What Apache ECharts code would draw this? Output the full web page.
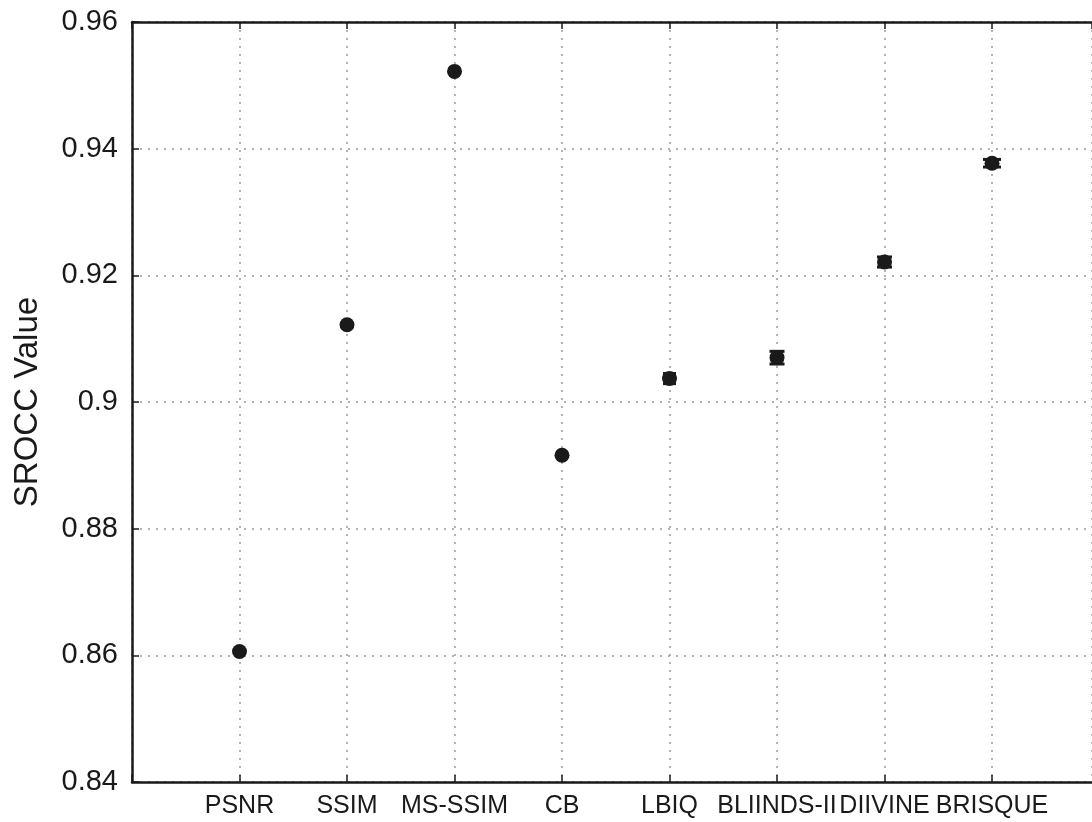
<!DOCTYPE html>
<html>
<head>
<meta charset="utf-8">
<script src="https://cdn.jsdelivr.net/npm/echarts@6/dist/echarts.min.js"></script>
<style>html,body{margin:0;padding:0;background:#fff}#c{width:1092px;height:822px}</style>
</head>
<body>
<div id="c"></div>
<script>
const categories = ['PSNR','SSIM','MS-SSIM','CB','LBIQ','BLIINDS-II','DIIVINE','BRISQUE'];
const srocc = [0.8606, 0.9122, 0.9522, 0.8916, 0.9037, 0.9070, 0.9221, 0.9377];
const errHalf = [0.0004, 0.0002, 0.0002, 0.0002, 0.0008, 0.0010, 0.0008, 0.0006];
const capWidth = [8, 8, 8, 8, 13, 15, 15, 18];
const yTicks = [0.84, 0.86, 0.88, 0.90, 0.92, 0.94, 0.96];

const pts = srocc.map((v, i) => [i + 1, v]);
const errData = srocc.map((v, i) => [i + 1, v - errHalf[i], v + errHalf[i], capWidth[i]]);
const font = 'Liberation Sans, Arial, sans-serif';
const xMax = 8.93;

const chart = echarts.init(document.getElementById('c'));
chart.setOption({
  animation: false,
  grid: { left: 132, top: 22, bottom: 40, right: -30 },
  xAxis: [{
    type: 'value', min: 0, max: xMax, interval: 1, position: 'bottom',
    axisLine: { show: true, onZero: false, lineStyle: { color: '#1a1a1a', width: 2.5 } },
    axisTick: { show: true, inside: true, length: 7, lineStyle: { color: '#1a1a1a', width: 1.5 } },
    axisLabel: { color: '#1a1a1a', fontFamily: font, fontSize: 25, margin: 12, showMaxLabel: false,
      formatter: v => (v >= 1 && v <= categories.length) ? categories[v - 1] : '' },
    splitLine: { show: true, lineStyle: { color: '#9a9a9a', width: 1.5, type: [2, 6] } }
  }, {
    type: 'value', min: 0, max: xMax, interval: 1, position: 'top',
    axisLine: { show: true, lineStyle: { color: '#1a1a1a', width: 2.5 } },
    axisTick: { show: true, inside: true, length: 7, lineStyle: { color: '#1a1a1a', width: 1.5 } },
    axisLabel: { show: false }, splitLine: { show: false }
  }],
  yAxis: [{
    type: 'value', min: 0.84, max: 0.96, interval: 0.02,
    name: 'SROCC Value', nameLocation: 'middle', nameGap: 88, nameRotate: 90,
    nameTextStyle: { color: '#1a1a1a', fontFamily: font, fontSize: 33 },
    axisLine: { show: true, onZero: false, lineStyle: { color: '#1a1a1a', width: 2.5 } },
    axisTick: { show: true, inside: true, length: 7, lineStyle: { color: '#1a1a1a', width: 1.5 } },
    axisLabel: { color: '#1a1a1a', fontFamily: font, fontSize: 29, margin: 14,
      formatter: v => { const t = yTicks.find(x => Math.abs(x - v) < 1e-6); return t === undefined ? '' : String(parseFloat(t.toFixed(2))); } },
    splitLine: { show: true, lineStyle: { color: '#9a9a9a', width: 1.5, type: [2, 6] } }
  }],
  series: [{
    type: 'custom',
    data: errData,
    z: 3,
    renderItem: (params, api) => {
      const x = api.value(0);
      const lo = api.coord([x, api.value(1)]);
      const hi = api.coord([x, api.value(2)]);
      const w = api.value(3) / 2;
      const st = { stroke: '#1a1a1a', lineWidth: 3 };
      return { type: 'group', children: [
        { type: 'line', shape: { x1: lo[0], y1: lo[1], x2: hi[0], y2: hi[1] }, style: st },
        { type: 'line', shape: { x1: lo[0] - w, y1: lo[1], x2: lo[0] + w, y2: lo[1] }, style: st },
        { type: 'line', shape: { x1: hi[0] - w, y1: hi[1], x2: hi[0] + w, y2: hi[1] }, style: st }
      ]};
    }
  }, {
    type: 'scatter', data: pts, symbol: 'circle', symbolSize: 15, z: 4,
    itemStyle: { color: '#1a1a1a', opacity: 1 }
  }]
});
</script>
</body>
</html>
